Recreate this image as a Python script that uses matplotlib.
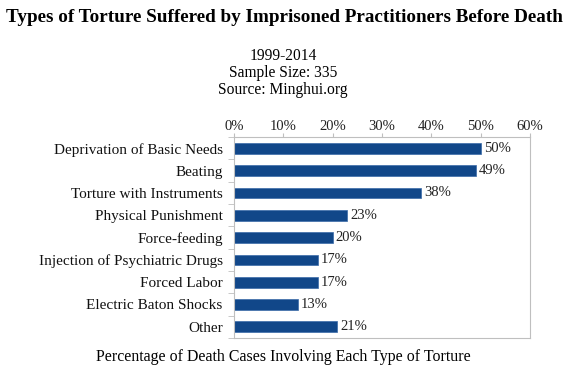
import matplotlib.pyplot as plt
from matplotlib.ticker import FuncFormatter

# data
categories = ['Deprivation of Basic Needs', 'Beating', 'Torture with Instruments',
              'Physical Punishment', 'Force-feeding', 'Injection of Psychiatric Drugs',
              'Forced Labor', 'Electric Baton Shocks', 'Other']
values = [50, 49, 38, 23, 20, 17, 17, 13, 21]
x_ticks = [0, 10, 20, 30, 40, 50, 60]

title = 'Types of Torture Suffered by Imprisoned Practitioners Before Death'
subtitle = '1999-2014\nSample Size: 335\nSource: Minghui.org'
xlabel = 'Percentage of Death Cases Involving Each Type of Torture'

plt.rcParams['font.family'] = ['Liberation Serif', 'DejaVu Serif']

fig = plt.figure(figsize=(5.73, 3.81), dpi=100)
ax = fig.add_axes([0.408, 0.113, 0.517, 0.527])

bar_color = '#114789'
n = len(categories)
ypos = list(range(n))
ax.barh(ypos, values, height=0.48, color=bar_color, edgecolor='#3a6aa8', linewidth=0.5)

for y, v in zip(ypos, values):
    ax.text(v + 0.6, y, f'{v}%', va='center', ha='left', fontsize=10.5, color='#222222')

ax.set_xlim(0, 60)
ax.set_ylim(n - 0.5, -0.5)
ax.set_xticks(x_ticks)
ax.xaxis.set_major_formatter(FuncFormatter(lambda v, p: f'{v:.0f}%'))
ax.xaxis.tick_top()
ax.tick_params(axis='x', direction='out', length=3, color='#bfbfbf', labelsize=10.5,
               labelcolor='#222222', pad=0)

ax.set_yticks(ypos)
ax.set_yticklabels(categories, fontsize=11, color='#111111')
ax.set_yticks([i - 0.5 for i in range(n + 1)], minor=True)
ax.tick_params(axis='y', which='major', length=0, pad=8)
ax.tick_params(axis='y', which='minor', direction='out', length=4, color='#bfbfbf')

for s in ax.spines.values():
    s.set_color('#bfbfbf')
    s.set_linewidth(0.8)

fig.text(0.497, 0.955, title, ha='center', va='center', fontsize=13.8, fontweight='bold')
fig.text(0.494, 0.808, subtitle, ha='center', va='center', fontsize=11.2, linespacing=1.1)
fig.text(0.494, 0.063, xlabel, ha='center', va='center', fontsize=11.4)

fig.savefig('out.png', dpi=100)
